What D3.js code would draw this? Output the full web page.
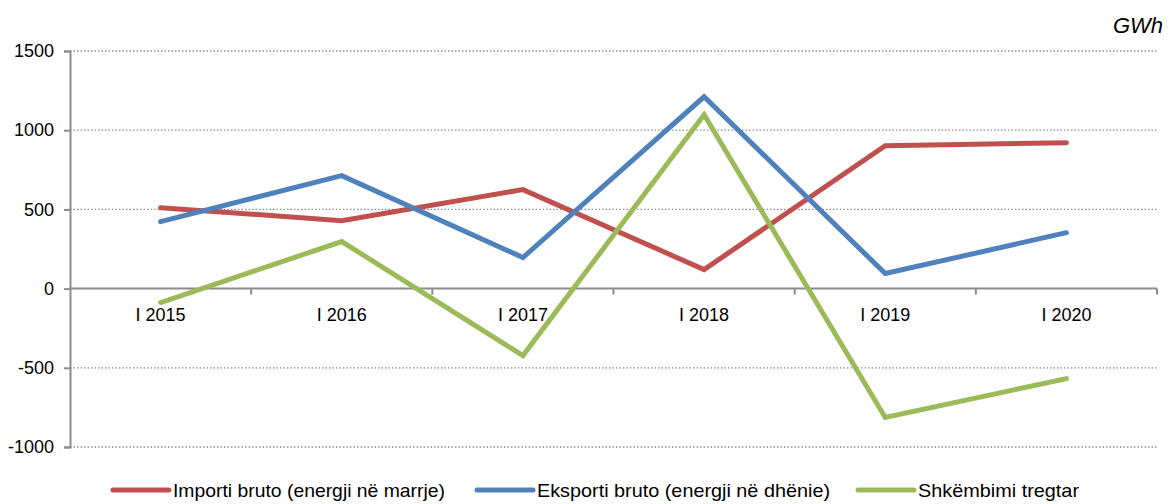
<!DOCTYPE html>
<html>
<head>
<meta charset="utf-8">
<script src="https://cdn.jsdelivr.net/npm/d3@7"></script>
<style>
  body { margin: 0; background: #fff; }
  svg { font-family: "Liberation Sans", Arial, sans-serif; }
</style>
</head>
<body>
<div id="chart1"></div>
<script>
const periods = ["I 2015", "I 2016", "I 2017", "I 2018", "I 2019", "I 2020"];
const importi = [511, 429, 625, 120, 902, 921];
const eksporti = [423, 713, 196, 1211, 95, 353];
const shkembimi = [-88, 297, -423, 1098, -814, -568];
const yTicks = [-1000, -500, 0, 500, 1000, 1500];
const seriesNames = ["Importi bruto (energji në marrje)", "Eksporti bruto (energji në dhënie)", "Shkëmbimi tregtar"];

const width = 1169;
const height = 504;
const margin = ({top: 51, right: 12, bottom: 57, left: 70});

const svg = d3.select("#chart1")
    .append("svg")
    .attr("width", width)
    .attr("height", height)
    .attr("viewBox", [0, 0, width, height]);

const x = d3.scaleBand()
    .domain(periods)
    .range([margin.left, width - margin.right]);

const y = d3.scaleLinear()
    .domain([-1000, 1500])
    .range([height - margin.bottom, margin.top]);

// dotted gridlines
svg.append("g")
    .selectAll("line")
    .data(yTicks.filter(d => d !== 0))
    .join("line")
    .attr("x1", margin.left)
    .attr("x2", width - margin.right)
    .attr("y1", d => y(d))
    .attr("y2", d => y(d))
    .attr("stroke", "#8c8c8c")
    .attr("stroke-width", 1.3)
    .attr("stroke-dasharray", "1.5,2");

// y axis
const yAxis = svg.append("g")
    .attr("transform", `translate(${margin.left},0)`)
    .attr("font-size", 18)
    .attr("font-family", "Liberation Sans, Arial, sans-serif")
    .call(d3.axisLeft(y).tickValues(yTicks).tickFormat(d => String(d)).tickSize(6).tickPadding(10));
yAxis.attr("font-size", 18).attr("font-family", "Liberation Sans, Arial, sans-serif");
yAxis.select(".domain").attr("stroke", "#8c8c8c").attr("stroke-width", 2);
yAxis.selectAll(".tick line").attr("stroke", "#8c8c8c").attr("stroke-width", 2);
yAxis.selectAll("text").attr("fill", "#000");

// x axis at zero, ticks on band boundaries
const xAxis = svg.append("g")
    .attr("transform", `translate(0,${y(0)})`);
xAxis.append("line")
    .attr("x1", margin.left)
    .attr("x2", width - margin.right)
    .attr("stroke", "#8c8c8c")
    .attr("stroke-width", 2);
xAxis.selectAll(".xtick")
    .data(periods)
    .join("line")
    .attr("class", "xtick")
    .attr("x1", d => x(d) + x.bandwidth())
    .attr("x2", d => x(d) + x.bandwidth())
    .attr("y1", 0)
    .attr("y2", 6)
    .attr("stroke", "#8c8c8c")
    .attr("stroke-width", 2);
xAxis.selectAll(".xlabel")
    .data(periods)
    .join("text")
    .attr("class", "xlabel")
    .attr("x", d => x(d) + x.bandwidth() / 2)
    .attr("y", 32)
    .attr("text-anchor", "middle")
    .attr("font-size", 18)
    .text(d => d);

// lines
const series = [
    {name: seriesNames[0], values: importi, color: "#C0504D"},
    {name: seriesNames[1], values: eksporti, color: "#4F81BD"},
    {name: seriesNames[2], values: shkembimi, color: "#9BBB59"}
];

const line = d3.line()
    .x((d, i) => x(periods[i]) + x.bandwidth() / 2)
    .y(d => y(d));

svg.append("g")
    .selectAll("path")
    .data(series)
    .join("path")
    .attr("fill", "none")
    .attr("stroke", d => d.color)
    .attr("stroke-width", 5)
    .attr("stroke-linejoin", "miter")
    .attr("stroke-linecap", "round")
    .attr("d", d => line(d.values));

// unit label
svg.append("text")
    .attr("x", 1163)
    .attr("y", 33)
    .attr("text-anchor", "end")
    .attr("font-size", 22)
    .attr("font-style", "italic")
    .text("GWh");

// legend
const legendX = [113, 477, 858];
const legend = svg.append("g")
    .selectAll("g")
    .data(series)
    .join("g")
    .attr("transform", (d, i) => `translate(${legendX[i]},490)`);
legend.append("line")
    .attr("x1", 0)
    .attr("x2", 56)
    .attr("stroke", d => d.color)
    .attr("stroke-width", 5)
    .attr("stroke-linecap", "round");
legend.append("text")
    .attr("x", 60)
    .attr("y", 7)
    .attr("font-size", 19)
    .attr("textLength", (d, i) => [272, 293, 161][i])
    .attr("lengthAdjust", "spacingAndGlyphs")
    .text(d => d.name);
</script>
</body>
</html>
